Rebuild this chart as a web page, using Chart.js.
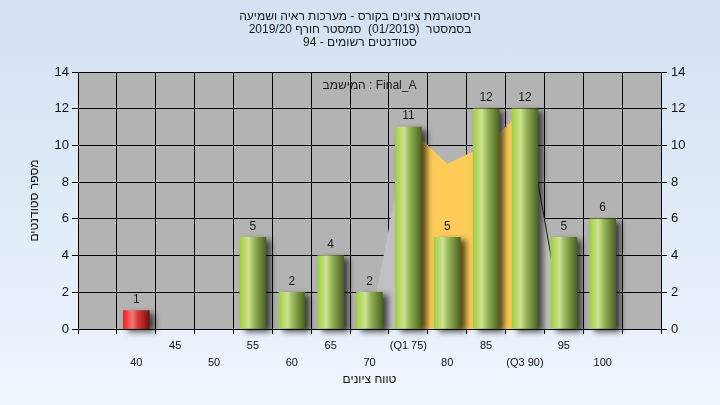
<!DOCTYPE html>
<html lang="he">
<head>
  <meta charset="utf-8">
  <title>היסטוגרמת ציונים</title>
  <script src="https://cdn.jsdelivr.net/npm/chart.js@4"></script>
  <style>
    * { box-sizing: border-box; margin: 0; padding: 0; }
    html, body { width: 720px; height: 405px; overflow: hidden; }
    body { background: linear-gradient(#d3e1f2, #eef5fd); }
    #wrap { position: relative; width: 720px; height: 405px; }
  </style>
</head>
<body>
  <div id="wrap"><canvas id="chart"></canvas></div>
  <script>
    // Data
    const grades = [40, 45, 50, 55, 60, 65, 70, 75, 80, 85, 90, 95, 100];
    const tickLabels = ['40', '45', '50', '55', '60', '65', '70', '(Q1 75)', '80', '85', '(Q3 90)', '95', '100'];
    const students = [1, 0, 0, 5, 2, 4, 2, 11, 5, 12, 12, 5, 6];
    const passGrade = 45;
    const curveGrades = [70, 75, 80, 85, 90, 95];
    const curveValues = [0, 11, 9, 10, 12, 0];
    const q1 = 75, q3 = 90;
    const titleLines = ['היסטוגרמת ציונים בקורס - מערכות ראיה ושמיעה', 'בסמסטר  (01/2019)  סמסטר חורף 2019/20', 'סטודנטים רשומים - 94'];
    const taskLabel = 'במשימה : Final_A';
    const xTitle = 'טווח ציונים';
    const yTitle = 'מספר סטודנטים';

    const FONT = '"Liberation Sans", "DejaVu Sans", sans-serif';
    Chart.defaults.font.family = FONT;
    Chart.defaults.color = '#111';

    // the task label in the original has its glyphs in plain left-to-right order
    function drawLtr(ctx, text, cx, cy) {
      const chars = Array.from(text);
      const widths = chars.map(ch => ctx.measureText(ch).width);
      let x = cx - widths.reduce((a, b) => a + b, 0) / 2;
      ctx.textAlign = 'left';
      chars.forEach((ch, i) => { ctx.fillText(ch, x, cy); x += widths[i]; });
    }

    const curvePart = (from, to) => curveGrades
      .map((g, i) => ({ x: g, y: curveValues[i] }))
      .filter(p => p.x >= from && p.x <= to);

    function barFill(c) {
      const chart = c.chart;
      const red = grades[c.dataIndex] < passGrade;
      if (!chart.chartArea) return red ? '#d82020' : '#8fb040';
      const x = chart.scales.x.getPixelForValue(grades[c.dataIndex]);
      const g = chart.ctx.createLinearGradient(x - 13, 0, x + 13, 0);
      if (red) {
        g.addColorStop(0, '#ff1a1a'); g.addColorStop(0.35, '#f07878');
        g.addColorStop(0.55, '#d83a3a'); g.addColorStop(1, '#7a0c0c');
      } else {
        g.addColorStop(0, '#a2cc44'); g.addColorStop(0.33, '#cce48e');
        g.addColorStop(0.55, '#96b45a'); g.addColorStop(1, '#4a6420');
      }
      return g;
    }

    const plotBg = {
      id: 'plotBg',
      beforeDraw(chart) {
        const { ctx, chartArea: a } = chart;
        ctx.save(); ctx.fillStyle = '#b3b3b3';
        ctx.fillRect(a.left, a.top, a.right - a.left, a.bottom - a.top);
        ctx.restore();
      }
    };

    const barShadow = {
      id: 'barShadow',
      beforeDatasetDraw(chart, args) {
        if (chart.data.datasets[args.index].type !== 'bar') return;
        const ctx = chart.ctx; ctx.save();
        ctx.shadowColor = 'rgba(0,0,0,0.65)'; ctx.shadowBlur = 6;
        ctx.shadowOffsetX = 5; ctx.shadowOffsetY = 3;
      },
      afterDatasetDraw(chart, args) {
        if (chart.data.datasets[args.index].type === 'bar') chart.ctx.restore();
      }
    };

    const texts = {
      id: 'texts',
      afterDatasetsDraw(chart) {
        const ctx = chart.ctx;
        const a = chart.chartArea;
        const meta = chart.getDatasetMeta(0);
        ctx.save();
        ctx.font = '12px ' + FONT; ctx.fillStyle = '#1a1a1a';
        ctx.textAlign = 'center'; ctx.textBaseline = 'middle';
        meta.data.forEach((bar, i) => {
          if (students[i] > 0) ctx.fillText(String(students[i]), bar.x, bar.y - 11);
        });
        titleLines.forEach((t, i) => ctx.fillText(t, chart.width / 2, 17 + i * 13));
        drawLtr(ctx, taskLabel, (a.left + a.right) / 2, a.top + 14);
        ctx.restore();
      }
    };

    new Chart(document.getElementById('chart'), {
      data: {
        datasets: [
          {
            type: 'bar', order: 0, clip: false,
            data: grades.map((g, i) => ({ x: g, y: students[i] || null })),
            backgroundColor: barFill, borderWidth: 0, barThickness: 26
          },
          {
            type: 'line', order: 1, data: curvePart(curveGrades[0], q1),
            fill: 'origin', backgroundColor: '#c0c0c0', borderWidth: 0, pointRadius: 0
          },
          {
            type: 'line', order: 1, data: curvePart(q1, q3),
            fill: 'origin', backgroundColor: '#fecb57', borderWidth: 0, pointRadius: 0
          },
          {
            type: 'line', order: 1, data: curvePart(q3, curveGrades[curveGrades.length - 1]),
            fill: 'origin', backgroundColor: '#c0c0c0', borderColor: '#222', borderWidth: 1, pointRadius: 0
          }
        ]
      },
      options: {
        responsive: true, maintainAspectRatio: false, animation: false,
        layout: { padding: { top: 72 } },
        plugins: { legend: { display: false }, tooltip: { enabled: false } },
        scales: {
          x: {
            type: 'linear', min: 35, max: 105,
            afterFit: s => { s.height = 76; },
            grid: { color: '#000', tickLength: 5 },
            border: { color: '#000' },
            ticks: {
              stepSize: 5, autoSkip: false, maxRotation: 0, padding: 3, color: '#111',
              font: { size: 11, lineHeight: 1.55 },
              callback: v => {
                const i = grades.indexOf(v);
                if (i < 0) return '';
                return i % 2 === 0 ? ['', tickLabels[i]] : tickLabels[i];
              }
            },
            title: { display: true, text: xTitle, color: '#111', font: { size: 12 }, padding: { top: 0, bottom: 18 } }
          },
          y: {
            min: 0, max: 14,
            afterFit: s => { s.width = 78; },
            grid: { color: '#000', tickLength: 6 },
            border: { color: '#000' },
            ticks: { stepSize: 2, padding: 3, color: '#111', font: { size: 13 } },
            title: { display: true, text: yTitle, color: '#111', font: { size: 12 }, padding: { top: 27, bottom: 0 } }
          },
          y2: {
            position: 'right', min: 0, max: 14,
            afterFit: s => { s.width = 59; },
            grid: { drawOnChartArea: false, color: '#000', tickLength: 6 },
            border: { color: '#000' },
            ticks: { stepSize: 2, padding: 4, color: '#111', font: { size: 13 } }
          }
        }
      },
      plugins: [plotBg, barShadow, texts]
    });
  </script>
</body>
</html>
